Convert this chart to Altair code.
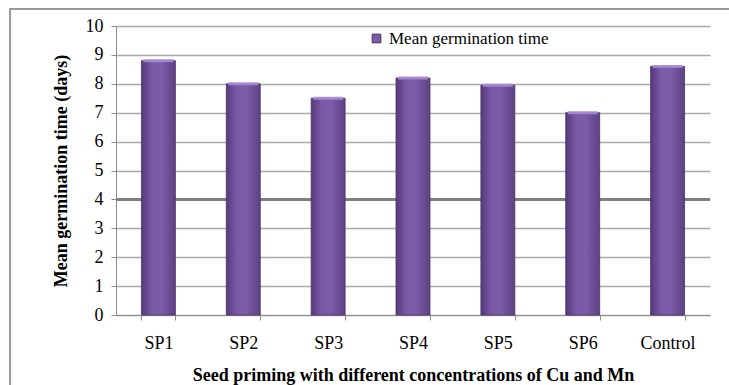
import altair as alt
import pandas as pd

treatments = ["SP1", "SP2", "SP3", "SP4", "SP5", "SP6", "Control"]
mgt_days = [8.8, 8.0, 7.5, 8.2, 7.95, 7.0, 8.6]
series_name = "Mean germination time"

df = pd.DataFrame({"treatment": treatments, "mgt": mgt_days, "series": series_name})

SERIF = "Liberation Serif"

x_enc = alt.X(
    "treatment:N",
    sort=treatments,
    scale=alt.Scale(paddingInner=0.6, paddingOuter=0.3),
    axis=alt.Axis(
        title="Seed  priming with different concentrations of Cu and Mn",
        labelAngle=0,
        tickBand="extent",
        tickSize=5,
        tickColor="#8c8c8c",
        domainColor="#8c8c8c",
        labelPadding=14,
        titlePadding=14,
        grid=False,
    ),
)

y_scale = alt.Scale(domain=[0, 10], nice=False)
y_axis = alt.Axis(
    title="Mean germination time (days)",
    values=list(range(0, 11)),
    tickSize=5,
    tickColor="#8c8c8c",
    domainColor="#8c8c8c",
    grid=True,
    gridColor="#a9a9a9",
    gridWidth=1.5,
    labelPadding=8,
    titlePadding=15,
)

bar_fill = alt.Gradient(
    gradient="linear",
    x1=0, x2=1, y1=0, y2=0,
    stops=[
        alt.GradientStop(color="#56397a", offset=0),
        alt.GradientStop(color="#7a59a6", offset=0.3),
        alt.GradientStop(color="#7c5ba8", offset=0.6),
        alt.GradientStop(color="#5d4183", offset=1),
    ],
)

bars = alt.Chart(df).mark_bar(
    fill=bar_fill, stroke="#4a3168", strokeWidth=0.8
).encode(
    x=x_enc,
    y=alt.Y("mgt:Q", scale=y_scale, axis=y_axis),
    color=alt.Color(
        "series:N",
        scale=alt.Scale(range=["#7c5ba8"]),
        legend=alt.Legend(
            title=None,
            orient="none",
            legendX=250,
            legendY=2,
            symbolType="square",
            symbolSize=75,
            symbolStrokeColor="#4a3168",
            symbolStrokeWidth=1,
            labelFont=SERIF,
            labelFontSize=17,
            labelColor="#000000",
            fillColor="#ffffff",
            padding=2,
        ),
    ),
)

# light bevel along the top of each column
caps = alt.Chart(df).mark_tick(
    color="#a98bd4", thickness=3, opacity=0.9
).encode(
    x=x_enc,
    y=alt.Y("mgt:Q", scale=y_scale, axis=y_axis),
    size=alt.value(30),
)

# emphasised gridline at 4 days, behind the columns
mid_rule = alt.Chart(df).mark_rule(color="#7f7f7f", strokeWidth=3).encode(
    y=alt.datum(4, scale=y_scale, axis=y_axis)
)

# outer chart frame
frame = alt.Chart(df).mark_rect(
    fill=None, stroke="#9a9a9a", strokeWidth=1.5, clip=False
).encode(
    x=alt.value(-106), x2=alt.value(640), y=alt.value(-17), y2=alt.value(400)
)

chart = (
    alt.layer(frame, mid_rule, bars, caps)
    .properties(
        width=594,
        height=289,
        autosize=alt.AutoSizeParams(type="none"),
        padding={"left": 116, "top": 26, "right": 19, "bottom": 70},
    )
    .configure(background="#ffffff")
    .configure_view(stroke=None)
    .configure_axis(
        labelFont=SERIF,
        titleFont=SERIF,
        labelFontSize=18,
        titleFontSize=18,
        labelColor="#000000",
        titleColor="#000000",
        titleFontWeight="bold",
    )
)

chart.save("out.html", embed_options={"renderer": "svg", "actions": False})
